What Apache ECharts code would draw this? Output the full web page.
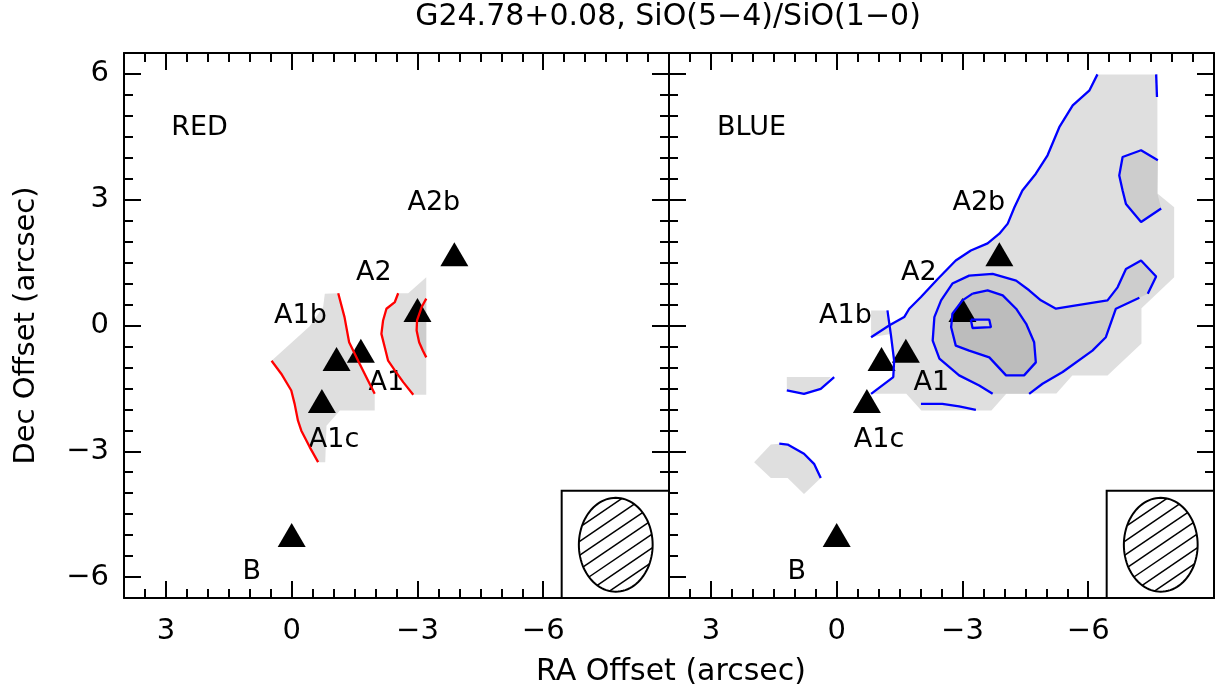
<!DOCTYPE html>
<html><head><meta charset="utf-8">
<script src="https://cdn.jsdelivr.net/npm/echarts@6/dist/echarts.min.js"></script>
<style>html,body{margin:0;padding:0;background:#fff}#c{width:1223px;height:696px}</style>
</head><body><div id="c"></div>
<script>
// ---------- axis ticks ----------
const xMajorTicks = [3, 0, -3, -6];
const yMajorTicks = [6, 3, 0, -3, -6];
const xRange = [-9, 4];
const yRange = [-6.5, 6.5];

// ---------- sources (RA, Dec offsets in arcsec) ----------
const sourceRA  = [-0.72, -1.07, -1.65, -3.00, -3.88, 0.00];
const sourceDec = [-1.80, -0.80, -0.60, 0.37, 1.70, -5.00];
const labelNames = ['A1c', 'A1b', 'A1', 'A2', 'A2b', 'B'];
const labelRA  = [-1.01, -0.21, -2.26, -1.96, -3.39, 0.95];
const labelDec = [-2.74, 0.23, -1.38, 1.25, 2.92, -5.87];
const panelNames = ['RED', 'BLUE'];
const panelNameRA = [2.20, 2.03];
const panelNameDec = [4.70, 4.70];

// ---------- RED panel ----------
const redFillA = [[-0.79,0.76],[-1.11,0.77],[-1.26,0.20],[-1.37,-0.40],[-1.62,-0.91],[-1.82,-1.31],[-1.98,-1.63],[-1.98,-2.03],[-1.15,-2.03],[-0.83,-2.39],[-0.80,-3.26],[-0.63,-3.26],[-0.43,-2.90],[-0.23,-2.51],[-0.15,-2.27],[-0.07,-1.87],[0.01,-1.55],[0.25,-1.15],[0.48,-0.84],[-0.43,-0.02],[-0.75,0.44]];
const redFillB = [[-3.21,1.15],[-2.78,0.77],[-2.54,0.77],[-2.46,0.56],[-2.26,0.40],[-2.18,0.12],[-2.14,-0.20],[-2.22,-0.52],[-2.30,-0.84],[-2.46,-1.07],[-2.66,-1.35],[-2.90,-1.65],[-3.21,-1.65]];
const redFillDark = [[-3.21,0.64],[-3.10,0.44],[-2.99,0.12],[-2.98,-0.12],[-3.04,-0.40],[-3.13,-0.60],[-3.21,-0.76]];
const redLine1 = [[0.48,-0.84],[0.25,-1.15],[0.01,-1.55],[-0.07,-1.87],[-0.15,-2.27],[-0.23,-2.51],[-0.43,-2.90],[-0.63,-3.26]];
const redLine2 = [[-1.11,0.77],[-1.26,0.20],[-1.37,-0.40],[-1.62,-0.91],[-1.82,-1.31],[-1.98,-1.63]];
const redLine3 = [[-2.54,0.77],[-2.46,0.56],[-2.26,0.40],[-2.18,0.12],[-2.14,-0.20],[-2.22,-0.52],[-2.30,-0.84],[-2.46,-1.07],[-2.66,-1.35],[-2.90,-1.65]];
const redLine4 = [[-3.21,0.64],[-3.10,0.44],[-2.99,0.12],[-2.98,-0.12],[-3.04,-0.40],[-3.13,-0.60],[-3.21,-0.76]];

// ---------- BLUE panel ----------
const blueFillMain = [[-0.82,0.36],[-1.17,0.36],[-1.25,0.04],[-1.61,0.20],[-1.73,0.40],[-2.01,0.68],[-2.41,1.11],[-2.84,1.55],[-3.20,1.79],[-3.60,1.96],[-3.88,2.19],[-4.08,2.43],[-4.24,2.82],[-4.43,3.22],[-4.75,3.62],[-5.03,4.06],[-5.31,4.73],[-5.63,5.25],[-6.03,5.61],[-6.22,5.99],[-7.65,5.99],[-7.65,3.15],[-8.05,2.82],[-8.05,1.15],[-7.27,0.41],[-7.27,-0.43],[-6.46,-1.19],[-5.62,-1.19],[-5.24,-1.62],[-4.05,-1.62],[-3.69,-2.03],[-2.02,-2.03],[-1.66,-1.63],[-0.82,-1.63],[-1.35,-1.23],[-1.37,-0.84],[-1.29,-0.20],[-0.82,-0.28]];
const blueFillWest1 = [[1.19,-1.23],[0.14,-1.23],[0.38,-1.51],[0.78,-1.63],[1.19,-1.55]];
const blueFillWest2 = [[1.97,-3.26],[1.57,-2.84],[1.37,-2.82],[1.17,-2.84],[0.78,-3.06],[0.54,-3.30],[0.38,-3.64],[0.78,-4.02],[1.17,-3.64],[1.57,-3.64]];
const blueFillMid1 = [[-3.72,-1.63],[-3.40,-1.43],[-2.92,-1.19],[-2.45,-0.79],[-2.29,-0.36],[-2.33,0.20],[-2.49,0.60],[-2.76,1.00],[-3.16,1.19],[-3.72,1.23],[-4.28,1.07],[-4.59,0.84],[-4.87,0.60],[-5.23,0.40],[-5.71,0.48],[-6.46,0.60],[-6.70,0.91],[-6.90,1.35],[-7.26,1.55],[-7.62,1.17],[-7.42,0.76],[-7.22,0.66],[-6.66,0.40],[-6.42,-0.28],[-6.10,-0.60],[-5.39,-1.11],[-4.91,-1.39],[-4.59,-1.63]];
const blueFillMid2 = [[-7.66,3.94],[-7.26,4.18],[-6.82,4.02],[-6.74,3.58],[-6.82,3.22],[-6.90,2.90],[-7.26,2.47],[-7.74,2.79],[-7.65,3.15]];
const blueFillDark = [[-3.24,0.76],[-3.60,0.84],[-3.96,0.72],[-4.28,0.40],[-4.52,0.04],[-4.71,-0.40],[-4.75,-0.88],[-4.47,-1.19],[-4.04,-1.19],[-3.64,-0.76],[-3.16,-0.60],[-2.84,-0.48],[-2.73,-0.04],[-2.76,0.28],[-3.00,0.60]];
const blueFillHole = [[-3.20,0.14],[-3.64,0.14],[-3.68,-0.04],[-3.24,-0.06]];

const blueOuter = [[-0.82,-0.28],[-1.25,0.00],[-1.61,0.20],[-1.73,0.40],[-2.01,0.68],[-2.41,1.11],[-2.84,1.55],[-3.20,1.79],[-3.60,1.96],[-3.88,2.19],[-4.08,2.43],[-4.24,2.82],[-4.43,3.22],[-4.75,3.62],[-5.03,4.06],[-5.31,4.73],[-5.63,5.25],[-6.03,5.61],[-6.22,5.99]];
const blueVertical = [[-1.21,0.36],[-1.29,-0.20],[-1.37,-0.84],[-1.35,-1.23],[-0.82,-1.63]];
const blueMidA = [[-3.72,-1.63],[-3.40,-1.43],[-2.92,-1.19],[-2.45,-0.79],[-2.29,-0.36],[-2.33,0.20],[-2.49,0.60],[-2.76,1.00],[-3.16,1.19],[-3.72,1.23],[-4.28,1.07],[-4.59,0.84],[-4.87,0.60],[-5.23,0.40],[-5.71,0.48],[-6.46,0.60],[-6.70,0.91],[-6.90,1.35],[-7.26,1.55],[-7.62,1.17],[-7.42,0.76]];
const blueMidB = [[-4.59,-1.63],[-4.91,-1.39],[-5.39,-1.11],[-6.10,-0.60],[-6.42,-0.28],[-6.66,0.40],[-7.22,0.66]];
const blueInner = [[-3.24,0.76],[-3.60,0.84],[-3.96,0.72],[-4.28,0.40],[-4.52,0.04],[-4.71,-0.40],[-4.75,-0.88],[-4.47,-1.19],[-4.04,-1.19],[-3.64,-0.76],[-3.16,-0.60],[-2.84,-0.48],[-2.73,-0.04],[-2.76,0.28],[-3.00,0.60],[-3.24,0.76]];
const blueHole = [[-3.20,0.14],[-3.64,0.14],[-3.68,-0.04],[-3.24,-0.06],[-3.20,0.14]];
const blueUpper = [[-7.66,3.94],[-7.26,4.18],[-6.82,4.02],[-6.74,3.58],[-6.82,3.22],[-6.90,2.90],[-7.26,2.47],[-7.74,2.79]];
const blueTop = [[-7.62,5.99],[-7.64,5.45]];
const blueBottom = [[-2.01,-1.87],[-2.52,-1.87],[-2.92,-1.93],[-3.32,-2.01]];
const blueWest1 = [[1.19,-1.55],[0.78,-1.63],[0.38,-1.51],[0.06,-1.23]];
const blueWest2 = [[1.37,-2.82],[1.17,-2.84],[0.78,-3.06],[0.54,-3.30],[0.38,-3.64]];

// ---------- beam ----------
const beamCenter = [-7.73, -5.23];
const beamSemiAxes = [0.88, 1.12];
const beamBoxRA = [-6.44, -9];
const beamBoxDec = [-3.94, -6.5];

// ---------- styling ----------
const FONT = 'DejaVu Sans';
const LIGHT = '#dfdfdf', MID = '#cdcdcd', DARK = '#bcbcbc';
const minus = v => String(v).replace('-', '\u2212');
const tickStyle = {color: '#000', width: 2};

function xAxes(grid) {
  const base = {gridIndex: grid, type: 'value', min: xRange[0], max: xRange[1], inverse: true, splitLine: {show: false}};
  return [
    Object.assign({}, base, {position: 'bottom', interval: 0.5, axisLine: {show: true, onZero: false, lineStyle: tickStyle}, axisTick: {inside: true, length: 9, lineStyle: tickStyle}, axisLabel: {show: false}}),
    Object.assign({}, base, {position: 'bottom', axisLine: {show: false, onZero: false}, axisTick: {inside: true, length: 17, customValues: xMajorTicks, lineStyle: tickStyle}, axisLabel: {show: true, customValues: xMajorTicks, formatter: minus, margin: 19, fontSize: 29, fontFamily: FONT, color: '#000'}}),
    Object.assign({}, base, {position: 'top', interval: 0.5, axisLine: {show: true, onZero: false, lineStyle: tickStyle}, axisTick: {inside: true, length: 9, lineStyle: tickStyle}, axisLabel: {show: false}}),
    Object.assign({}, base, {position: 'top', axisLine: {show: false, onZero: false}, axisTick: {inside: true, length: 17, customValues: xMajorTicks, lineStyle: tickStyle}, axisLabel: {show: false}})
  ];
}
function yAxes(grid, withLabels) {
  const base = {gridIndex: grid, type: 'value', min: yRange[0], max: yRange[1], splitLine: {show: false}};
  const leftMinor = Object.assign({}, base, {position: 'left', interval: 0.5, axisLine: {show: true, onZero: false, lineStyle: tickStyle}, axisTick: {inside: true, length: 9, lineStyle: tickStyle}, axisLabel: {show: false}});
  if (withLabels) {
    Object.assign(leftMinor, {name: 'Dec Offset (arcsec)', nameLocation: 'middle', nameGap: 83, nameTextStyle: {fontSize: 29, fontFamily: FONT, color: '#000'}});
  }
  return [
    leftMinor,
    Object.assign({}, base, {position: 'left', axisLine: {show: false, onZero: false}, axisTick: {inside: true, length: 17, customValues: yMajorTicks, lineStyle: tickStyle}, axisLabel: {show: withLabels, customValues: yMajorTicks, formatter: minus, margin: 15, fontSize: 29, fontFamily: FONT, color: '#000'}}),
    Object.assign({}, base, {position: 'right', interval: 0.5, axisLine: {show: true, onZero: false, lineStyle: tickStyle}, axisTick: {inside: true, length: 9, lineStyle: tickStyle}, axisLabel: {show: false}}),
    Object.assign({}, base, {position: 'right', axisLine: {show: false, onZero: false}, axisTick: {inside: true, length: 17, customValues: yMajorTicks, lineStyle: tickStyle}, axisLabel: {show: false}})
  ];
}

function polySeries(pts, fill, ax) {
  return {type: 'custom', xAxisIndex: ax, yAxisIndex: ax, data: [pts[0]], clip: false, silent: true,
    renderItem: (params, api) => ({type: 'polygon', shape: {points: pts.map(p => api.coord(p))}, style: {fill: fill}})};
}
function lineSeries(pts, color, ax) {
  return {type: 'line', xAxisIndex: ax, yAxisIndex: ax, data: pts, showSymbol: false, symbol: 'none', silent: true,
    lineStyle: {color: color, width: 2.3, opacity: 1}, smooth: false};
}
function sourceSeries(ax) {
  return {type: 'scatter', xAxisIndex: ax, yAxisIndex: ax, symbol: 'triangle', symbolSize: [28, 24],
    itemStyle: {color: '#000', opacity: 1}, silent: true, data: sourceRA.map((r, i) => [r, sourceDec[i]])};
}
function labelSeries(ax, panel) {
  const data = labelNames.map((n, i) => ({name: n, value: [labelRA[i], labelDec[i]]}));
  data.push({name: panelNames[panel], value: [panelNameRA[panel], panelNameDec[panel]]});
  return {type: 'scatter', xAxisIndex: ax, yAxisIndex: ax, symbolSize: 0, silent: true, data: data,
    itemStyle: {opacity: 1},
    label: {show: true, position: 'inside', formatter: '{b}', fontSize: 27, fontFamily: FONT, color: '#000', opacity: 1}};
}
function beamSeries(ax) {
  return {type: 'custom', xAxisIndex: ax, yAxisIndex: ax, data: [beamCenter], clip: false, silent: true, z: 5,
    renderItem: (params, api) => {
      const p0 = api.coord([beamBoxRA[0], beamBoxDec[0]]);
      const p1 = api.coord([beamBoxRA[1], beamBoxDec[1]]);
      const c = api.coord(beamCenter);
      const s = api.size(beamSemiAxes);
      const a = s[0], b = s[1];
      const ell = [];
      for (let i = 0; i < 96; i++) { const t = i / 96 * 2 * Math.PI; ell.push([c[0] + a * Math.cos(t), c[1] + b * Math.sin(t)]); }
      const children = [{type: 'rect', shape: {x: Math.min(p0[0], p1[0]), y: Math.min(p0[1], p1[1]), width: Math.abs(p1[0] - p0[0]), height: Math.abs(p1[1] - p0[1])}, style: {fill: '#fff', stroke: '#000', lineWidth: 2}}];
      const m = 0.68, sp = 14;
      for (let k = -3; k <= 3; k++) {
        const off = k * sp;
        const A = 1 / (a * a) + m * m / (b * b), B = -2 * off * m / (b * b), C = off * off / (b * b) - 1;
        const D = B * B - 4 * A * C;
        if (D <= 0) continue;
        const u1 = (-B - Math.sqrt(D)) / (2 * A), u2 = (-B + Math.sqrt(D)) / (2 * A);
        children.push({type: 'line', shape: {x1: c[0] + u1, y1: c[1] + off - m * u1, x2: c[0] + u2, y2: c[1] + off - m * u2}, style: {stroke: '#000', lineWidth: 1.5}});
      }
      children.push({type: 'polygon', shape: {points: ell}, style: {fill: null, stroke: '#000', lineWidth: 2}});
      return {type: 'group', children: children};
    }};
}

const L = 0, R = 4; // axis index of each panel
const series = [
  polySeries(redFillA, LIGHT, L), polySeries(redFillB, LIGHT, L), polySeries(redFillDark, MID, L),
  lineSeries(redLine1, '#ff0000', L), lineSeries(redLine2, '#ff0000', L), lineSeries(redLine3, '#ff0000', L), lineSeries(redLine4, '#ff0000', L),
  sourceSeries(L), labelSeries(L, 0), beamSeries(L),

  polySeries(blueFillMain, LIGHT, R), polySeries(blueFillWest1, LIGHT, R), polySeries(blueFillWest2, LIGHT, R),
  polySeries(blueFillMid1, MID, R), polySeries(blueFillMid2, MID, R), polySeries(blueFillDark, DARK, R), polySeries(blueFillHole, MID, R),
  lineSeries(blueOuter, '#0000ff', R), lineSeries(blueVertical, '#0000ff', R), lineSeries(blueMidA, '#0000ff', R), lineSeries(blueMidB, '#0000ff', R),
  lineSeries(blueInner, '#0000ff', R), lineSeries(blueHole, '#0000ff', R), lineSeries(blueUpper, '#0000ff', R), lineSeries(blueTop, '#0000ff', R),
  lineSeries(blueBottom, '#0000ff', R), lineSeries(blueWest1, '#0000ff', R), lineSeries(blueWest2, '#0000ff', R),
  sourceSeries(R), labelSeries(R, 1), beamSeries(R)
];

const chart = echarts.init(document.getElementById('c'), null, {renderer: 'canvas'});
chart.setOption({
  animation: false,
  backgroundColor: '#fff',
  grid: [
    {left: 124, top: 53, width: 545, height: 545},
    {left: 669, top: 53, width: 545, height: 545}
  ],
  xAxis: xAxes(0).concat(xAxes(1)),
  yAxis: yAxes(0, true).concat(yAxes(1, false)),
  graphic: [
    {type: 'text', x: 668, y: 17, style: {text: 'G24.78+0.08, SiO(5\u22124)/SiO(1\u22120)', align: 'center', verticalAlign: 'middle', textAlign: 'center', textVerticalAlign: 'middle', fontSize: 30, fontFamily: FONT, fill: '#000'}},
    {type: 'text', x: 671, y: 672, style: {text: 'RA Offset (arcsec)', align: 'center', verticalAlign: 'middle', textAlign: 'center', textVerticalAlign: 'middle', fontSize: 30, fontFamily: FONT, fill: '#000'}}
  ],
  series: series
});
</script>
</body></html>
